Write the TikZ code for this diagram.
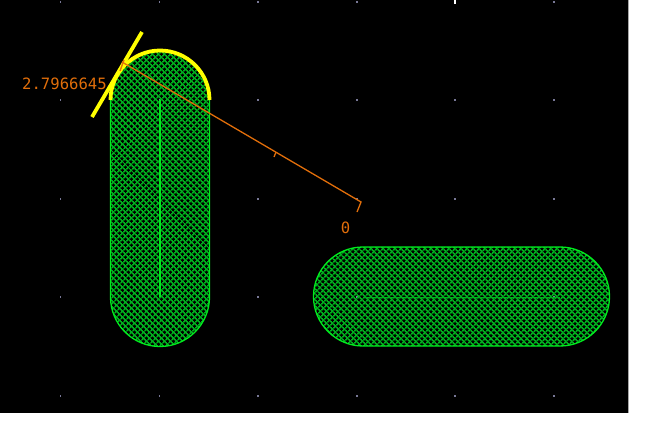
\documentclass[tikz,border=0pt]{standalone}
\usepackage{fontspec}
\setmonofont{DejaVu Sans Mono}
\usetikzlibrary{patterns.meta}
\definecolor{padgreen}{RGB}{0,235,30}
\definecolor{hatchgreen}{RGB}{0,175,30}
\definecolor{dimorange}{RGB}{225,110,10}
\definecolor{selyellow}{RGB}{255,255,0}
\definecolor{griddot}{RGB}{120,120,150}
\tikzset{
  padfill/.style={pattern={Lines[angle=45,distance=4pt,line width=1.7pt]},pattern color=hatchgreen},
  padfillb/.style={pattern={Lines[angle=-45,distance=4pt,line width=1.7pt]},pattern color=hatchgreen},
  padline/.style={padgreen,line width=1.3pt},
  selline/.style={selyellow,line width=3.8pt},
  dimline/.style={dimorange,line width=1.3pt},
  dimtext/.style={text=dimorange,font=\ttfamily\fontsize{15.6}{16}\selectfont,inner sep=0pt}
}
\begin{document}
\begin{tikzpicture}[x=1pt,y=-1pt]
  \useasboundingbox (0,0) rectangle (660,429);
  \fill[white] (0,0) rectangle (660,429);
  \fill[black] (0,0) rectangle (628,413);
  \draw[gray!70] (628.5,0)--(628.5,413);
  % grid dots
  \foreach \x in {60.5,159.5,258,357,455,554}{
    \foreach \y in {2,100,199,297,396}{
      \fill[griddot] (\x-0.8,\y-0.8) rectangle (\x+0.8,\y+0.8);
    }
  }
  \fill[white] (453.5,0) rectangle (456,4);
  % hatching of both pads
  \foreach \s in {padfill,padfillb}{
    \fill[\s] (110.5,100) arc (180:360:49.5) -- (209.5,297) arc (0:180:49.5) -- cycle;
    \fill[\s] (363,247) -- (560,247) arc (270:450:49.5) -- (363,346) arc (90:270:49.5) -- cycle;
  }
  % vertical pad
  \draw[padline] (110.5,100) arc (180:360:49.5) -- (209.5,297) arc (0:180:49.5) -- cycle;
  \draw[padline] (160,100)--(160,297);
  % horizontal pad
  \draw[padline] (363,247) -- (560,247) arc (270:450:49.5) -- (363,346) arc (90:270:49.5) -- cycle;
  \draw[hatchgreen,line width=1pt] (363,297)--(560,297);
  % selected edge
  \draw[selline] (110.5,100) arc (180:360:49.5);
  \coordinate (tanA) at (92,117);
  \coordinate (tanB) at (142,32);
  \draw[selline] (tanA)--(tanB);
  % dimension
  \coordinate (dimA) at (122,62);
  \coordinate (dimB) at (361,202);
  \coordinate (dimC) at (357,212);
  \draw[dimline] (dimA)--(dimB)--(dimC);
  \draw[dimline] (276,152)--(274,157);
  \draw[dimline] (124,60)--(120,71);
  \node[dimtext,anchor=west] (dimval) at (22,84) {2.7966645};
  \node[dimtext] (dimzero) at (345.5,228) {0};
\end{tikzpicture}
\end{document}
